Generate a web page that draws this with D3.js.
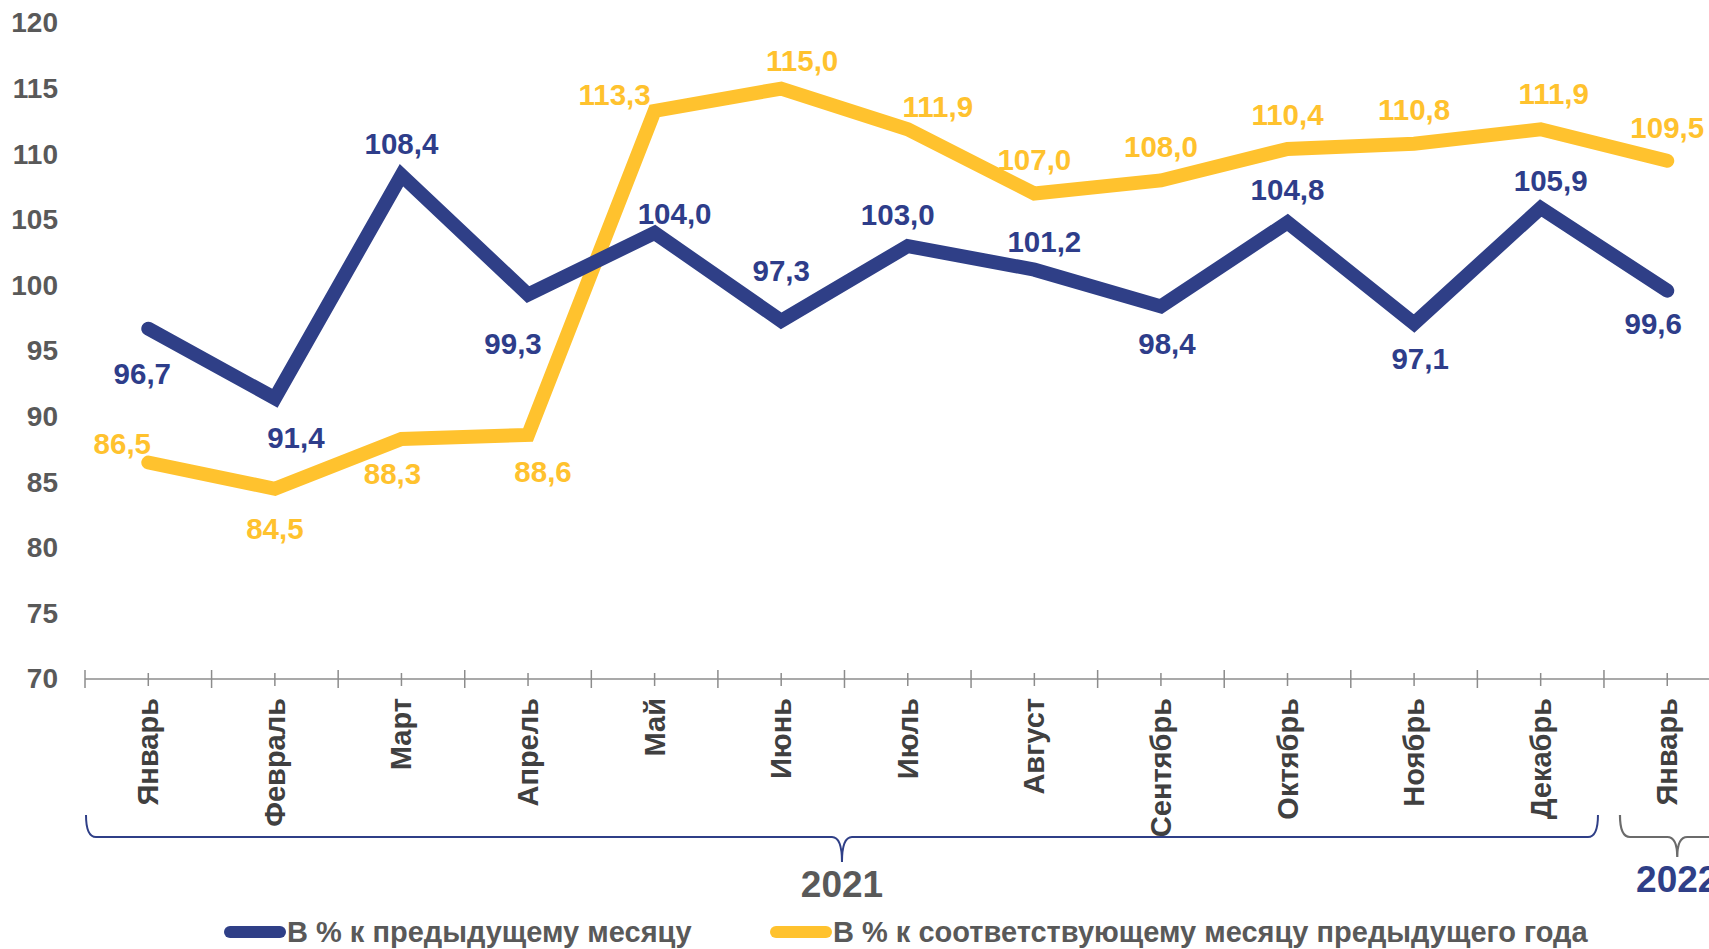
<!DOCTYPE html>
<html>
<head>
<meta charset="utf-8">
<script src="https://cdn.jsdelivr.net/npm/d3@7"></script>
<style>
  body { margin: 0; background: #fff; }
  svg text { font-family: "Liberation Sans", Arial, sans-serif; font-weight: bold; }
</style>
</head>
<body>
<svg id="chart" width="1709" height="949"></svg>
<script>
// months on the x axis (Jan 2021 .. Jan 2022)
const months = ["Январь", "Февраль", "Март", "Апрель", "Май", "Июнь", "Июль",
                "Август", "Сентябрь", "Октябрь", "Ноябрь", "Декабрь", "Январь"];
// в % к предыдущему месяцу
const prevMonth = [96.7, 91.4, 108.4, 99.3, 104.0, 97.3, 103.0, 101.2, 98.4, 104.8, 97.1, 105.9, 99.6];
// в % к соответствующему месяцу предыдущего года
const prevYear = [86.5, 84.5, 88.3, 88.6, 113.3, 115.0, 111.9, 107.0, 108.0, 110.4, 110.8, 111.9, 109.5];
const yTicks = [70, 75, 80, 85, 90, 95, 100, 105, 110, 115, 120];
const years = ["2021", "2022"];
const yearFirst = [0, 12];
const yearLast = [11, 12];
const seriesNames = ["В % к предыдущему месяцу", "В % к соответствующему месяцу предыдущего года"];

// label shifts relative to the point (layout only)
const blueShift = [[-6, 45], [21, 39], [0, -32], [-15, 49], [20, -19], [0, -50], [-10, -32],
                   [10, -28], [6, 37], [0, -33], [6, 35], [10, -27], [-14, 33]];
const yellowShift = [[-26, -19], [0, 40], [-9, 35], [15, 37], [-40, -16], [21, -28], [30, -23],
                     [0, -34], [0, -34], [0, -34], [0, -34], [13, -36], [0, -33]];

const blue = "#2f3f87", yellow = "#ffc22e", gray = "#595959";

const svg = d3.select("#chart");

const x = d3.scaleBand()
            .domain(d3.range(months.length))
            .range([85, 85 + 126.58 * months.length])
            .padding(0);
const y = d3.scaleLinear()
            .domain([70, 120])
            .range([679, 23]);
const cx = (i) => x(i) + x.bandwidth() / 2;

// y axis labels
const yAxis = svg.append("g")
                .attr("transform", "translate(85,0)")
                .call(d3.axisLeft(y).tickValues(yTicks).tickSize(0).tickPadding(27));
yAxis.select(".domain").remove();
yAxis.selectAll("text")
     .attr("fill", gray)
     .style("font-size", "28px")
     .style("font-family", "Liberation Sans, Arial, sans-serif")
     .style("font-weight", "bold");

// x axis line and ticks
const axisG = svg.append("g");
axisG.append("line")
     .attr("x1", x(0)).attr("x2", 1709)
     .attr("y1", y(70)).attr("y2", y(70))
     .attr("stroke", "#8c8c8c").attr("stroke-width", 1.5);
axisG.selectAll(".edge")
     .data(d3.range(months.length + 1))
     .enter()
     .append("line")
     .attr("x1", (d) => 85 + d * x.bandwidth())
     .attr("x2", (d) => 85 + d * x.bandwidth())
     .attr("y1", y(70) - 9).attr("y2", y(70) + 9)
     .attr("stroke", "#8c8c8c").attr("stroke-width", 1.5);
axisG.selectAll(".mid")
     .data(d3.range(months.length))
     .enter()
     .append("line")
     .attr("x1", cx).attr("x2", cx)
     .attr("y1", y(70) - 6).attr("y2", y(70) + 7)
     .attr("stroke", "#8c8c8c").attr("stroke-width", 1.5);

// month labels
svg.selectAll(".month")
   .data(months)
   .enter()
   .append("text")
   .attr("transform", (d, i) => `translate(${cx(i)},698) rotate(-90)`)
   .attr("text-anchor", "end")
   .attr("dominant-baseline", "central")
   .attr("fill", "#404040")
   .style("font-size", "29px")
   .text((d) => d);

// braces under the months
function brace(x0, x1, xm, top, mid, tip) {
    return `M${x0},${top} Q${x0},${mid} ${x0 + 10},${mid} L${xm - 10},${mid} Q${xm},${mid} ${xm},${tip}` +
           ` Q${xm},${mid} ${xm + 10},${mid} L${x1 - 10},${mid} Q${x1},${mid} ${x1},${top}`;
}
const braceColor = [blue, "#6b6b6b"];
const yearColor = [gray, blue];
years.forEach((yr, k) => {
    const x0 = x(yearFirst[k]) + (k === 0 ? 1 : 16);
    const x1 = x(yearLast[k]) + x.bandwidth() - 6;
    const xm = k === 0 ? (x0 + x1) / 2 : cx(yearFirst[k]) + 10;
    svg.append("path")
       .attr("d", brace(x0, x1, xm, 815, 837, k === 0 ? 862 : 857))
       .attr("fill", "none")
       .attr("stroke", braceColor[k])
       .attr("stroke-width", k === 0 ? 2 : 2.2);
    svg.append("text")
       .attr("x", xm)
       .attr("y", k === 0 ? 897 : 892)
       .attr("text-anchor", "middle")
       .attr("fill", yearColor[k])
       .style("font-size", "37px")
       .text(yr);
});

// lines
const line = d3.line()
               .x((d, i) => cx(i))
               .y((d) => y(d));

svg.append("path")
   .datum(prevYear)
   .attr("d", line)
   .attr("fill", "none")
   .attr("stroke", yellow)
   .attr("stroke-width", 14)
   .attr("stroke-linecap", "round")
   .attr("stroke-linejoin", "miter");

svg.append("path")
   .datum(prevMonth)
   .attr("d", line)
   .attr("fill", "none")
   .attr("stroke", blue)
   .attr("stroke-width", 14)
   .attr("stroke-linecap", "round")
   .attr("stroke-linejoin", "miter");

const fmt = (v) => v.toFixed(1).replace(".", ",");

svg.selectAll(".lblBlue")
   .data(prevMonth)
   .enter()
   .append("text")
   .attr("x", (d, i) => cx(i) + blueShift[i][0])
   .attr("y", (d, i) => y(d) + blueShift[i][1])
   .attr("text-anchor", "middle")
   .attr("dominant-baseline", "central")
   .attr("fill", "#2e3d8a")
   .style("font-size", "29.5px")
   .text(fmt);

svg.selectAll(".lblYellow")
   .data(prevYear)
   .enter()
   .append("text")
   .attr("x", (d, i) => cx(i) + yellowShift[i][0])
   .attr("y", (d, i) => y(d) + yellowShift[i][1])
   .attr("text-anchor", "middle")
   .attr("dominant-baseline", "central")
   .attr("fill", "#ffc22e")
   .style("font-size", "29.5px")
   .text(fmt);

// legend
const legendX = [230, 776];
const legendColor = [blue, yellow];
const legend = svg.append("g");
seriesNames.forEach((name, k) => {
    legend.append("line")
          .attr("x1", legendX[k]).attr("x2", legendX[k] + 50)
          .attr("y1", 932).attr("y2", 932)
          .attr("stroke", legendColor[k])
          .attr("stroke-width", 12)
          .attr("stroke-linecap", "round");
    legend.append("text")
          .attr("x", legendX[k] + 57)
          .attr("y", 932)
          .attr("dominant-baseline", "central")
          .attr("fill", gray)
          .style("font-size", "29px")
          .text(name);
});
</script>
</body>
</html>
